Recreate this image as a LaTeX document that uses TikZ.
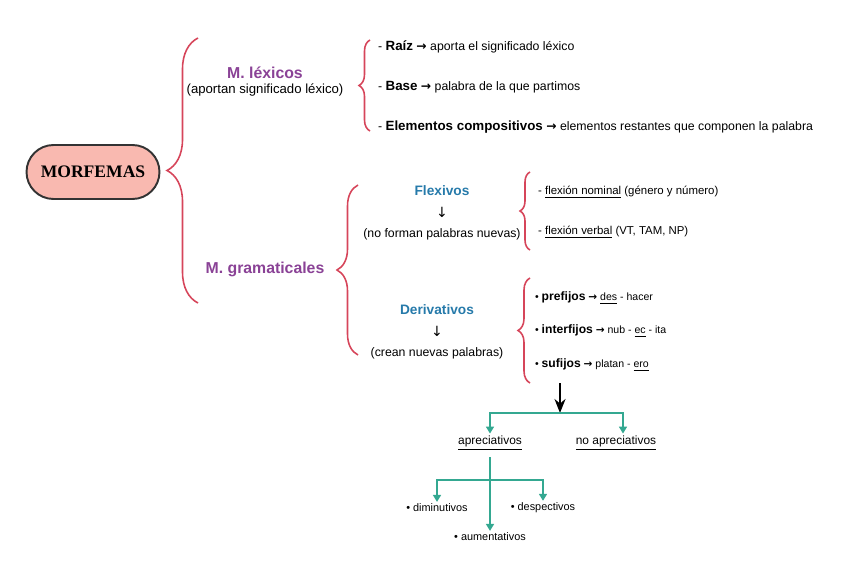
\documentclass[tikz,border=0pt]{standalone}
\usepackage{fontspec}
\setmainfont{Liberation Sans}
\newfontfamily\timesf{Liberation Serif}
\newfontfamily\symf{DejaVu Sans}
\usetikzlibrary{arrows.meta,positioning,decorations.pathreplacing}
\definecolor{bred}{RGB}{214,69,90}
\definecolor{mpurple}{RGB}{138,66,150}
\definecolor{fblue}{RGB}{38,122,170}
\definecolor{tealg}{RGB}{52,168,145}
\definecolor{rootpink}{RGB}{249,185,176}
\newcommand{\kw}[1]{{\fontsize{7.6}{8}\selectfont\bfseries #1}}
\newcommand{\pkw}[1]{{\fontsize{6.9}{8}\selectfont\bfseries #1}}
\newcommand{\rarr}{{\symf\bfseries →}}
\tikzset{
  root/.style={draw=black!80, line width=1.1pt, fill=rootpink, rounded corners=0.54cm, minimum width=2.66cm, minimum height=1.08cm, font=\timesf\bfseries\fontsize{10}{12}\selectfont},
  head/.style={font=\bfseries\fontsize{9}{11}\selectfont, text=mpurple, inner sep=1pt},
  subhead/.style={font=\bfseries\fontsize{7.8}{9}\selectfont, text=fblue, inner sep=1pt},
  note/.style={font=\fontsize{7.5}{9}\selectfont, inner sep=1pt},
  snote/.style={font=\fontsize{7}{9}\selectfont, inner sep=1pt},
  down/.style={font=\symf\fontsize{8}{9}\selectfont, inner sep=1pt},
  item/.style={anchor=west, font=\fontsize{7}{8}\selectfont, inner sep=1pt},
  sitem/.style={anchor=west, font=\fontsize{6.5}{8}\selectfont, inner sep=1pt},
  ditem/.style={anchor=west, font=\fontsize{6}{8}\selectfont, inner sep=1pt},
  leaf/.style={font=\fontsize{6.8}{8}\selectfont, inner sep=1pt},
  sleaf/.style={font=\fontsize{6.2}{8}\selectfont, inner sep=1pt},
  brc/.style={decorate, decoration={brace, amplitude=#1}, draw=bred, line width=0.9pt},
  tarr/.style={-{Triangle[length=1.4mm,width=1.6mm]}, draw=tealg, line width=0.9pt},
  barr/.style={-{Stealth[length=2.8mm,width=2.2mm]}, line width=1.1pt},
}
\begin{document}
\begin{tikzpicture}[x=0.02cm, y=-0.02cm, node distance=0.14cm]
\useasboundingbox (0,0) rectangle (848,584);

% root
\node[root] (morf) at (93,172) {MORFEMAS};
\draw[brc=0.62cm] (198,303) -- (198,38);

% lexicos
\node[head] (lex) at (265,73) {M. léxicos};
\node[note, below=0.02cm of lex] (lexsub) {(aportan significado léxico)};
\draw[brc=0.22cm] (370,131) -- (370,40);
\node[item] (raiz) at (376,47) {- \kw{Raíz} \rarr{} aporta el significado léxico};
\node[item] (base) at (376,87) {- \kw{Base} \rarr{} palabra de la que partimos};
\node[item] (elem) at (376,127) {- \kw{Elementos compositivos} \rarr{} elementos restantes que componen la palabra};

% gramaticales
\node[head] (gram) at (265,269) {M. gramaticales};
\draw[brc=0.42cm] (358,355) -- (358,185);

\node[subhead] (flex) at (442,191) {Flexivos};
\node[down, below=of flex] (flexar) {↓};
\node[snote, below=of flexar] (flexsub) {(no forman palabras nuevas)};
\draw[brc=0.2cm] (530,250) -- (530,172);
\node[sitem] (nom) at (536,192) {- \underline{flexión nominal} (género y número)};
\node[sitem] (verb) at (536,232) {- \underline{flexión verbal} (VT, TAM, NP)};

\node[subhead] (deriv) at (437,310) {Derivativos};
\node[down, below=of deriv] (derivar) {↓};
\node[snote, below=of derivar] (derivsub) {(crean nuevas palabras)};
\draw[brc=0.24cm] (530,383) -- (530,278);
\node[ditem] (pref) at (533,298) {• \pkw{prefijos} \rarr{} \underline{des} - hacer};
\node[ditem] (inter) at (533,331) {• \pkw{interfijos} \rarr{} nub - \underline{ec} - ita};
\node[ditem] (suf) at (533,365) {• \pkw{sufijos} \rarr{} platan - \underline{ero}};

% sufijos
\coordinate (drop) at (560,383);
\coordinate (fork) at (560,413);
\draw[barr] (drop) -- (fork);
\node[leaf] (apre) at (490,443) {\underline{apreciativos}};
\node[leaf] (noapre) at (616,443) {\underline{no apreciativos}};
\draw[tarr] (fork) -| (apre);
\draw[tarr] (fork) -| ([xshift=0.14cm]noapre.north);

\node[sleaf] (dimin) at (437,508) {• diminutivos};
\node[sleaf] (despec) at (543,508) {• despectivos};
\node[sleaf] (aumen) at (490,537) {• aumentativos};
\coordinate (fork2) at (490,480);
\draw[tarr, shorten <=0.1cm] (apre) -- (aumen);
\draw[tarr] (fork2) -| (dimin);
\draw[tarr] (fork2) -| (despec);

\end{tikzpicture}
\end{document}
